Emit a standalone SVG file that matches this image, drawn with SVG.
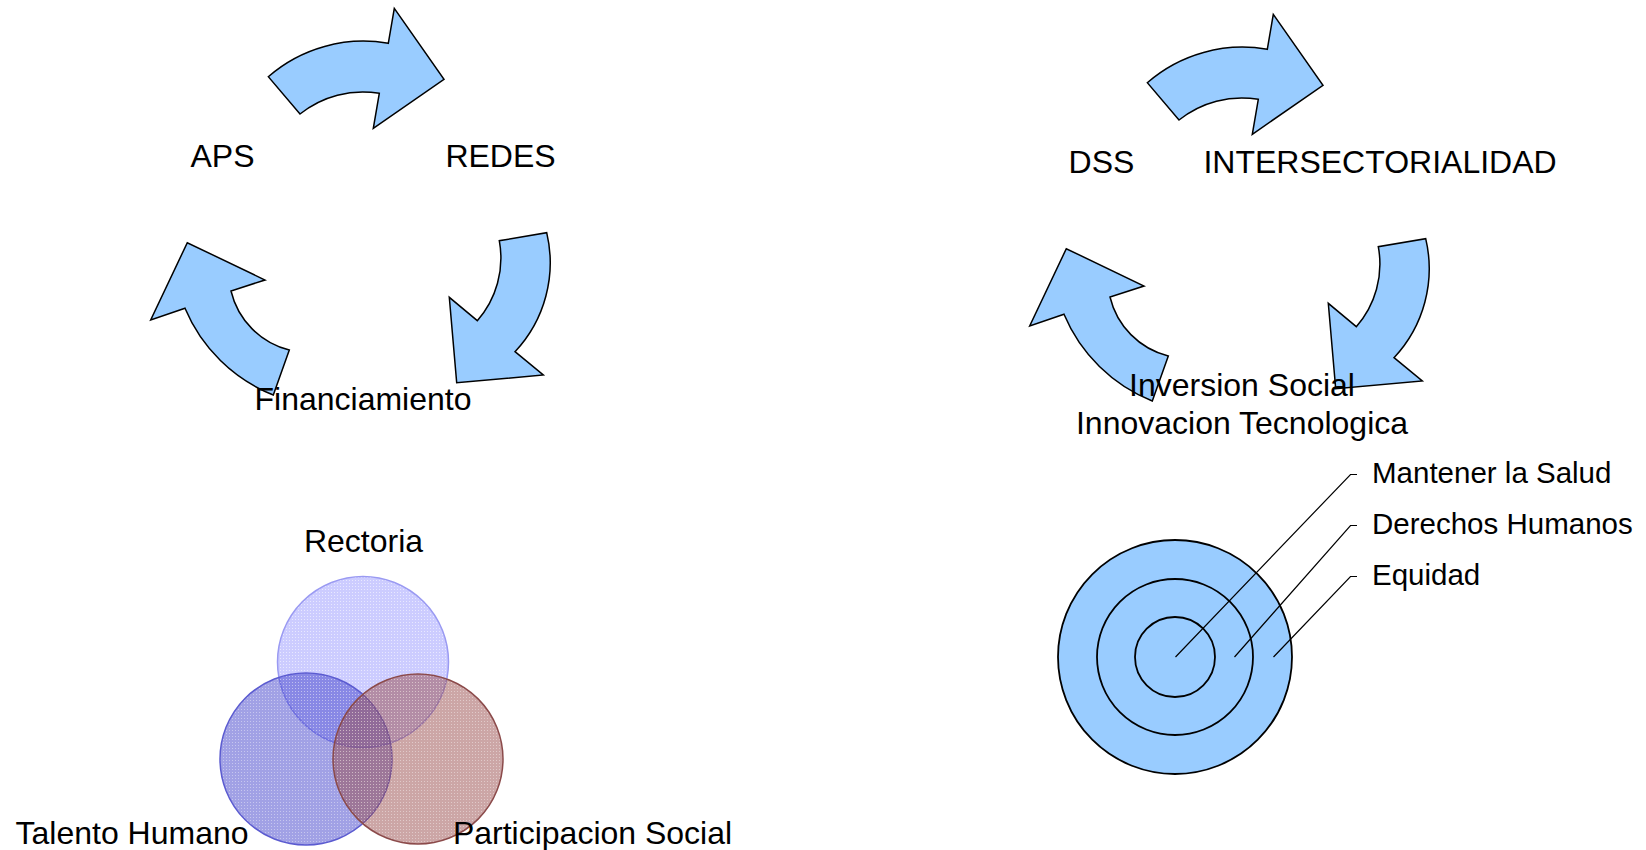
<svg xmlns="http://www.w3.org/2000/svg" width="1646" height="850" viewBox="0 0 1646 850">
  <style>
    .lbl { font-family: "Liberation Sans", Arial, sans-serif; font-size: 32px; fill: #000; }
    .lbl-s { font-family: "Liberation Sans", Arial, sans-serif; font-size: 29.5px; fill: #000; }
    .mid { text-anchor: middle; }
    .arrow { fill: #99ccff; stroke: #000; stroke-width: 1.5; stroke-linejoin: miter; }
    .ring { fill: #99ccff; stroke: #000; stroke-width: 1.8; }
    .leader { fill: none; stroke: #000; stroke-width: 1.2; }
  </style>
  <defs>
    <!-- dithered translucent fills for the three overlapping circles -->
    <pattern id="dotTop" width="3" height="3" patternUnits="userSpaceOnUse">
      <rect width="3" height="3" fill="#9999ff" fill-opacity="0.5"/>
      <rect x="1" y="1" width="1" height="1" fill="#ffffff" fill-opacity="0.55"/>
    </pattern>
    <pattern id="dotLeft" width="3" height="3" patternUnits="userSpaceOnUse">
      <rect width="3" height="3" fill="#4444cc" fill-opacity="0.5"/>
      <rect x="1" y="1" width="1" height="1" fill="#ffffff" fill-opacity="0.4"/>
    </pattern>
    <pattern id="dotRight" width="3" height="3" patternUnits="userSpaceOnUse">
      <rect width="3" height="3" fill="#994d4d" fill-opacity="0.5"/>
      <rect x="1" y="1" width="1" height="1" fill="#ffffff" fill-opacity="0.4"/>
    </pattern>

    <!-- one cycle of three curved arrows, reused for both cycles -->
    <g id="cycleArrows">
      <path class="arrow" d="M268.3,76.7 A145,145 0 0 1 388.3,43.3 L394.3,8.3 L444,79.3 L373.3,128.3 L379.3,93.3 A100,100 0 0 0 300,114 Z"/>
      <path class="arrow" d="M546.7,232.7 A130,130 0 0 1 515,351.7 L543.3,375 L456.7,382.7 L449.3,297.3 L477.3,320.7 A95,95 0 0 0 499.3,240.7 Z"/>
      <path class="arrow" d="M273.3,395 A160,160 0 0 1 185,308.3 L150.7,320 L187.3,242.7 L265,280 L231,291 A80,80 0 0 0 289.3,350 Z"/>
    </g>
  </defs>

  <!-- cycle 1: APS / REDES / Financiamiento -->
  <g id="cycle-left">
    <use href="#cycleArrows"/>
  </g>
  <g id="node-aps"><text class="lbl mid" x="222.5" y="167">APS</text></g>
  <g id="node-redes"><text class="lbl mid" x="500.5" y="167">REDES</text></g>
  <g id="node-financiamiento"><text class="lbl mid" x="363" y="409.5">Financiamiento</text></g>

  <!-- cycle 2: DSS / INTERSECTORIALIDAD / Inversion Social -->
  <g id="cycle-right">
    <use href="#cycleArrows" transform="translate(879,6)"/>
  </g>
  <g id="node-dss"><text class="lbl mid" x="1101.5" y="173">DSS</text></g>
  <g id="node-intersectorialidad"><text class="lbl mid" x="1380" y="173">INTERSECTORIALIDAD</text></g>
  <g id="node-inversion">
    <text class="lbl mid" x="1242" y="395.5">Inversion Social</text>
    <text class="lbl mid" x="1242" y="433.5">Innovacion Tecnologica</text>
  </g>

  <!-- Venn: three overlapping circles -->
  <g id="venn">
    <circle id="venn-rectoria" cx="363" cy="662" r="85.5" fill="url(#dotTop)" stroke="#9a9af2" stroke-width="1.5"/>
    <circle id="venn-talento" cx="306" cy="759" r="86" fill="url(#dotLeft)" stroke="#5b5bd0" stroke-width="1.5"/>
    <circle id="venn-participacion" cx="418" cy="759" r="85" fill="url(#dotRight)" stroke="#8b4a4a" stroke-width="1.5"/>
  </g>
  <g id="node-rectoria"><text class="lbl mid" x="363.5" y="552">Rectoria</text></g>
  <g id="node-talento"><text class="lbl mid" x="132" y="843.5">Talento Humano</text></g>
  <g id="node-participacion"><text class="lbl mid" x="592.5" y="843.5">Participacion Social</text></g>

  <!-- Target: three concentric rings -->
  <g id="target">
    <circle class="ring" cx="1175" cy="657" r="117"/>
    <circle class="ring" cx="1175" cy="657" r="78"/>
    <circle class="ring" cx="1175" cy="657" r="40"/>
  </g>

  <!-- leader lines from the rings to their labels -->
  <g id="connectors">
    <polyline class="leader" points="1175.5,657 1350.5,474.5 1357,474.5"/>
    <polyline class="leader" points="1234.5,657 1350.5,525.5 1357,525.5"/>
    <polyline class="leader" points="1273.5,657 1350.5,576.5 1357,576.5"/>
  </g>
  <g id="node-salud"><text class="lbl-s" x="1372" y="483">Mantener la Salud</text></g>
  <g id="node-derechos"><text class="lbl-s" x="1372" y="534">Derechos Humanos</text></g>
  <g id="node-equidad"><text class="lbl-s" x="1372" y="585">Equidad</text></g>
</svg>
